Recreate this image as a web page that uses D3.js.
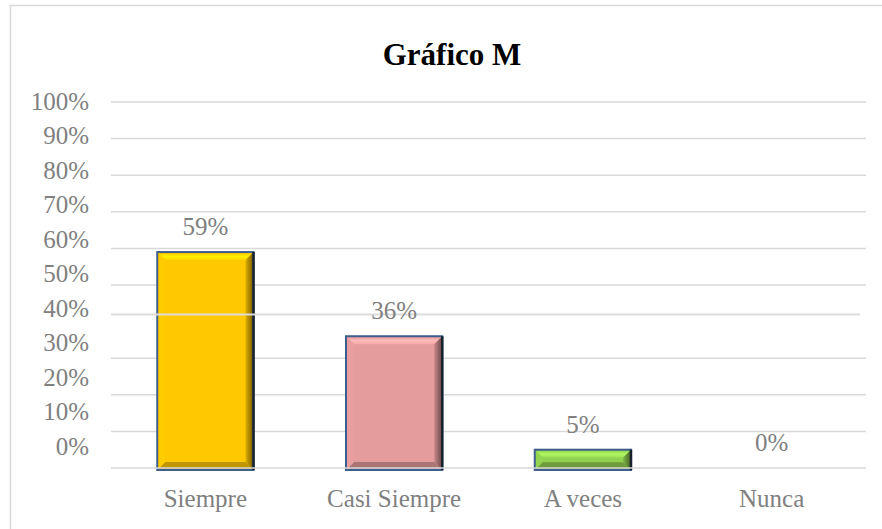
<!DOCTYPE html>
<html lang="es">
  <head>
    <meta charset="UTF-8" />
    <title>Gráfico M</title>
    <script src="https://d3js.org/d3.v7.min.js"></script>
    <style>
      body {
        margin: 0px;
        overflow: hidden;
        background: #fff;
      }
      text {
        font-family: "Liberation Serif", serif;
        fill: #808080;
      }
    </style>
  </head>
  <body>
    <svg width="882" height="529"></svg>
    <script>
      var categories = ["Siempre", "Casi Siempre", "A veces", "Nunca"];
      var values = [0.59, 0.36, 0.05, 0];
      var valueLabels = ["59%", "36%", "5%", "0%"];
      var colors = ["#ffc800", "#e59c9c", "#92d050", "#4f81bd"];
      var ticks = [0, 0.1, 0.2, 0.3, 0.4, 0.5, 0.6, 0.7, 0.8, 0.9, 1];

      var svg = d3.select("svg");
      var margin = { top: 102, right: 16, bottom: 61, left: 111 };
      var width = +svg.attr("width");
      var height = +svg.attr("height");

      // chart frame
      svg.append("rect")
        .attr("x", 10.5).attr("y", 5.5)
        .attr("width", 880).attr("height", 530)
        .attr("fill", "none").attr("stroke", "#d9d9d9").attr("stroke-width", 1.5);

      svg.append("text")
        .attr("x", 452).attr("y", 65)
        .attr("text-anchor", "middle")
        .style("font-size", "31px").style("font-weight", "bold").style("fill", "#000")
        .text("Gráfico M");

      var x = d3.scaleBand()
        .domain(categories)
        .range([margin.left, width - margin.right])
        .paddingInner(0.49).paddingOuter(0.245);

      var y = d3.scaleLinear()
        .domain([0, 1])
        .range([height - margin.bottom, margin.top]);

      // in the picture the tick labels sit on a slightly tighter spacing than the gridlines
      var yLabel = d3.scaleLinear().domain([0, 1]).range([446, 101.5]);

      var grid = svg.append("g");
      grid.selectAll("line")
        .data(ticks.filter(function (t) { return t !== 0.4 && t !== 0; }))
        .enter().append("line")
        .attr("x1", margin.left).attr("x2", width - margin.right)
        .attr("y1", function (d) { return y(d); })
        .attr("y2", function (d) { return y(d); })
        .attr("stroke", "#d9d9d9").attr("stroke-width", 1.5);

      svg.append("g").selectAll("text")
        .data(ticks)
        .enter().append("text")
        .attr("x", 89)
        .attr("y", function (d) { return yLabel(d); })
        .attr("dy", "0.34em")
        .attr("text-anchor", "end")
        .style("font-size", "25px")
        .text(d3.format(".0%"));

      var defs = svg.append("defs");
      var bars = svg.append("g");

      categories.forEach(function (c, i) {
        var v = values[i];
        if (v <= 0) return;
        var x0 = x(c), x1 = x(c) + x.bandwidth();
        var y0 = y(v), y1 = y(0) + 2;
        var b = Math.min(8, (y1 - y0) / 2.6);
        var base = d3.color(colors[i]);

        var gid = "rg" + i;
        var g = defs.append("linearGradient").attr("id", gid)
          .attr("x1", 0).attr("x2", 1).attr("y1", 0).attr("y2", 0);
        g.append("stop").attr("offset", "0%").attr("stop-color", base.darker(0.4));
        g.append("stop").attr("offset", "100%").attr("stop-color", base.darker(2.2));

        var tid = "tg" + i;
        var t = defs.append("linearGradient").attr("id", tid)
          .attr("x1", 0).attr("x2", 0).attr("y1", 0).attr("y2", 1);
        t.append("stop").attr("offset", "0%").attr("stop-color", base.darker(0.1));
        t.append("stop").attr("offset", "55%").attr("stop-color", base.brighter(0.5));
        t.append("stop").attr("offset", "100%").attr("stop-color", base.brighter(0.2));

        var bar = bars.append("g");
        bar.append("rect")
          .attr("x", x0).attr("y", y0)
          .attr("width", x1 - x0).attr("height", y1 - y0)
          .attr("fill", base);
        var poly = function (pts, fill) {
          bar.append("polygon")
            .attr("points", pts.map(function (p) { return p.join(","); }).join(" "))
            .attr("fill", fill);
        };
        poly([[x0, y0], [x1, y0], [x1 - b, y0 + b], [x0 + b, y0 + b]], "url(#" + tid + ")");
        poly([[x0, y1], [x1, y1], [x1 - b, y1 - b], [x0 + b, y1 - b]], base.darker(0.8));
        poly([[x0, y0], [x0 + b, y0 + b], [x0 + b, y1 - b], [x0, y1]], base.brighter(0.05));
        poly([[x1, y0], [x1 - b, y0 + b], [x1 - b, y1 - b], [x1, y1]], "url(#" + gid + ")");
        bar.append("rect")
          .attr("x", x0).attr("y", y0)
          .attr("width", x1 - x0).attr("height", y1 - y0)
          .attr("fill", "none").attr("stroke", "#3e5f8e").attr("stroke-width", 2);
        bar.append("line")
          .attr("x1", x1).attr("x2", x1).attr("y1", y0).attr("y2", y1)
          .attr("stroke", "#17212e").attr("stroke-width", 2.5);
      });

      // baseline and the 40% line are drawn over the bars, as in the picture
      svg.append("line")
        .attr("x1", margin.left).attr("x2", width - margin.right)
        .attr("y1", y(0)).attr("y2", y(0))
        .attr("stroke", "#d9d9d9").attr("stroke-width", 1.5);
      svg.append("line")
        .attr("x1", margin.left).attr("x2", width - margin.right - 6)
        .attr("y1", y(0.4) - 7).attr("y2", y(0.4) - 7)
        .attr("stroke", "#dcdcdc").attr("stroke-width", 2);

      svg.append("g").selectAll("text")
        .data(categories)
        .enter().append("text")
        .attr("x", function (d) { return x(d) + x.bandwidth() / 2; })
        .attr("y", 507)
        .attr("text-anchor", "middle")
        .style("font-size", "25px")
        .text(function (d) { return d; });

      svg.append("g").selectAll("text")
        .data(values)
        .enter().append("text")
        .attr("x", function (d, i) { return x(categories[i]) + x.bandwidth() / 2; })
        .attr("y", function (d) { return y(d) - 17; })
        .attr("text-anchor", "middle")
        .style("font-size", "25px")
        .text(function (d, i) { return valueLabels[i]; });
    </script>
  </body>
</html>
